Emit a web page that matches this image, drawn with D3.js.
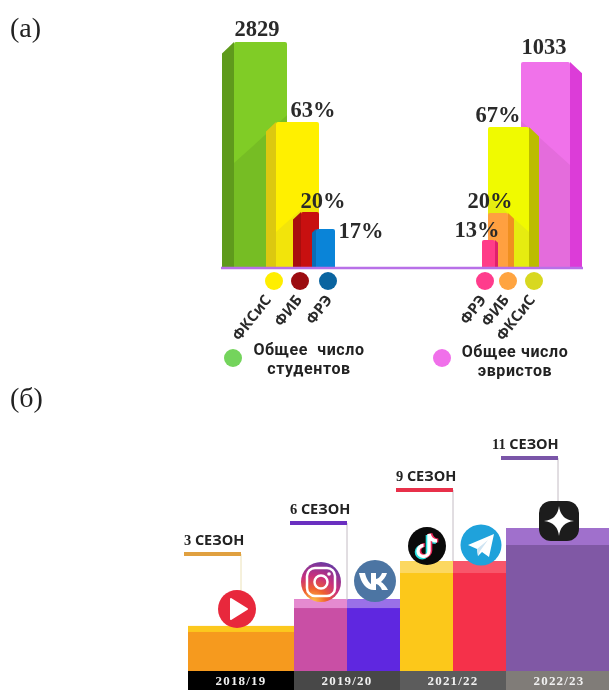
<!DOCTYPE html>
<html><head><meta charset="utf-8">
<script src="https://cdn.jsdelivr.net/npm/d3@7/dist/d3.min.js"></script>
<style>html,body{margin:0;padding:0;background:#fff;overflow:hidden}svg{display:block;filter:blur(0.35px)}</style>
</head><body><svg id="c" width="609" height="690" xmlns="http://www.w3.org/2000/svg"></svg>
<script>
// ---- data ----
const barKeys = ["students","sFksis","sFib","sFre","heurists","hFksis","hFib","hFre"];
const barLabels = ["2829","63%","20%","17%","1033","67%","20%","13%"];
// drawn bar heights, relative to the tallest bar (the infographic has no common axis)
const barLevels = [100,64.6,24.8,17.3,91.2,62.4,24.3,12.4];
const dotKeys = ["sFksis","sFib","sFre","hFre","hFib","hFksis"];
const dotLabels = ["ФКСиС","ФИБ","ФРЭ","ФРЭ","ФИБ","ФКСиС"];
const legendLines = [["Общее  число","студентов"],["Общее число","эвристов"]];
const seasons = ["2018/19","2019/20","2021/22","2022/23"];
const seasonNumbers = ["3","6","9","11"];
const seasonLevels = [31.5,50.3,76.9,100];

const svg = d3.select("#c");
const defs = svg.append("defs");
const serif = "'Liberation Serif',serif", sans = "'Open Sans','Noto Sans',sans-serif";

// panel letters
svg.selectAll("text.panel").data(["(а)","(б)"]).join("text")
  .attr("x",10).attr("y",d3.scaleOrdinal(["(а)","(б)"],[37,407]))
  .attr("font-family",serif).attr("font-size",28).attr("fill","#222").text(d=>d);

// ---- top chart ----
const yTop = d3.scaleLinear([0,100],[268,42]);
const x0 = d3.scaleOrdinal(barKeys,[222,266,293,312,521,488,488,482]);
const x1 = d3.scaleOrdinal(barKeys,[287,319,319,335,582,539,514,498]);
const sideW = d3.scaleOrdinal(barKeys,[12,10,8,4,-12,-10,-6,-3]);
const frontC = d3.scaleOrdinal(barKeys,["#80cc26","#fff000","#c81010","#0a84d8","#f072ea","#f0fa00","#ffa040","#ff3c88"]);
const sideC = d3.scaleOrdinal(barKeys,["#5f9a1c","#dcc810","#a80e0e","#0a6cb5","#dc3cd8","#bcbc00","#f09020","#e0206c"]);
const shadeC = d3.scaleOrdinal(barKeys,["#76bd24","#f2e40b","#c81010","#0a84d8","#e46cdc","#e6ec10","#f4a040","#ff3c88"]);
const order = ["students","heurists","sFksis","hFksis","sFib","hFib","sFre","hFre"];
const dotC = d3.scaleOrdinal(dotKeys,["#ffee00","#9c0c10","#0a64a0","#ff3c8c","#ffa440","#d8d820"]);
const labX = d3.scaleOrdinal(barKeys,[257,313,323,361,544,498,490,477]);
const labY = d3.scaleOrdinal(barKeys,[36,117,208,238,54,122,208,237]);
const shadeY = d3.scaleOrdinal(barKeys,[163,232,0,0,165,232,0,0]);

function frontPath(k,lvl){
  const a=x0(k),b=x1(k),s=sideW(k),t=yTop(lvl),base=yTop(0),r=2;
  const fl=s>0?a+s:a, fr=s>0?b:b+s;
  return `M${fl},${base}V${t+r}Q${fl},${t} ${fl+r},${t}H${fr-r}Q${fr},${t} ${fr},${t+r}V${base}Z`;
}
function sidePath(k,lvl){
  const a=x0(k),b=x1(k),s=sideW(k),t=yTop(lvl),base=yTop(0),d=Math.abs(s)*0.95;
  return s>0 ? `M${a},${base}V${t+d}L${a+s},${t}V${base}Z`
             : `M${b},${base}V${t+d}L${b+s},${t}V${base}Z`;
}
function shadePath(k){
  const a=x0(k),b=x1(k),s=sideW(k),base=yTop(0),y=shadeY(k);
  if(!y) return "";
  return s>0 ? `M${a+s},${base}V${y}L${b},${y-(b-a-s)*0.9}V${base}Z`
             : `M${a},${base}V${y-(b+s-a)*0.9}L${b+s},${y}V${base}Z`;
}
const lv = k=>barLevels[barKeys.indexOf(k)];
const gb = svg.selectAll("g.bar").data(order).join("g").attr("class","bar");
gb.append("path").attr("d",k=>sidePath(k,lv(k))).attr("fill",sideC);
gb.append("path").attr("d",k=>frontPath(k,lv(k))).attr("fill",frontC);
gb.append("path").attr("d",shadePath).attr("fill",shadeC);

svg.append("line").attr("x1",221).attr("x2",583).attr("y1",yTop(0)).attr("y2",yTop(0))
  .attr("stroke","#b870e8").attr("stroke-width",2.5);

svg.selectAll("text.val").data(barKeys).join("text").attr("class","val")
  .attr("x",labX).attr("y",labY).attr("text-anchor","middle")
  .attr("font-family",serif).attr("font-weight",700).attr("font-size",22.5).attr("fill","#2a2a2a")
  .text((k,i)=>barLabels[i]);

// category dots & rotated labels
const dotX = d3.scaleOrdinal(dotKeys,[274,300,328,485,508,534]);
const tickAnchor = d3.scaleOrdinal(dotKeys,[272,303,333,487,510,536]);
svg.selectAll("circle.dot").data(dotKeys).join("circle").attr("class","dot")
  .attr("cx",dotX).attr("cy",281).attr("r",9).attr("fill",dotC);
svg.selectAll("text.cat").data(dotKeys).join("text").attr("class","cat")
  .attr("transform",k=>`translate(${tickAnchor(k)},${300}) rotate(-52)`)
  .attr("text-anchor","end").attr("font-family",sans).attr("font-weight",700).attr("font-size",15)
  .attr("fill","#2a2a2a").text((k,i)=>dotLabels[i]);

// legend
const legX = d3.scaleOrdinal([0,1],[233,442]);
const legC = d3.scaleOrdinal([0,1],["#74d45c","#f070ea"]);
const legCx = d3.scaleOrdinal([0,1],[308,515]);
const legend = svg.selectAll("g.leg").data([0,1]).join("g");
legend.append("circle").attr("cx",legX).attr("cy",358).attr("r",9).attr("fill",legC);
legend.each(function(i){
  d3.select(this).selectAll("text").data(legendLines[i]).join("text")
    .attr("x",legCx(i)+(i?0:1)).attr("y",(d,j)=>355+(i?2:0)+j*19)
    .attr("text-anchor","middle").attr("font-family","Roboto,sans-serif").attr("font-weight",700).attr("font-size",16)
    .attr("letter-spacing",0.6).attr("xml:space","preserve").attr("style","white-space:pre").attr("fill","#222").text(d=>d);
});

// ---- bottom chart ----
const xS = d3.scaleBand(seasons,[188,612]);
const yS = d3.scaleLinear([0,100],[671,528]);
const half = d3.scaleBand([0,1],[0,xS.bandwidth()]);
const bodyC = [["#f69a1e","#f69a1e"],["#c94fa5","#5f27e0"],["#fcc81a","#f5314a"],["#8058a5","#8058a5"]];
const capC  = [["#fcc81e","#fcc81e"],["#e58ad0","#9a70e8"],["#fcd860","#f8566a"],["#a070cc","#a070cc"]];
const capH = d3.scaleOrdinal(seasons,[6,9,12,17]);
const stripC = d3.scaleOrdinal(seasons,["#000000","#484848","#5c5c5c","#807c78"]);

seasons.forEach((s,i)=>{
  [0,1].forEach(h=>{
    const bx=xS(s)+half(h), top=yS(seasonLevels[i]);
    svg.append("rect").attr("x",bx).attr("width",half.bandwidth()).attr("y",top)
      .attr("height",yS(0)-top).attr("fill",bodyC[i][h]);
    svg.append("rect").attr("x",bx).attr("width",half.bandwidth()).attr("y",top)
      .attr("height",capH(s)).attr("fill",capC[i][h]);
  });
});
svg.selectAll("rect.strip").data(seasons).join("rect").attr("class","strip")
  .attr("x",d=>xS(d)).attr("width",xS.bandwidth()).attr("y",yS(0)).attr("height",19).attr("fill",stripC);
svg.selectAll("text.yr").data(seasons).join("text").attr("class","yr")
  .attr("x",d=>xS(d)+xS.bandwidth()/2).attr("y",685).attr("text-anchor","middle")
  .attr("font-family",serif).attr("font-weight",700).attr("font-size",13).attr("letter-spacing",1.2)
  .attr("fill","#f0f0f0").text(d=>d);

// season call-outs
const calloutRight = d3.scaleOrdinal(seasons,[241,347,453,558]);
const calloutY = d3.scaleOrdinal(seasons,[554,523,490,458]);
const calloutEnd = d3.scaleOrdinal(seasons,[590,600,561,505]);
const calloutC = d3.scaleOrdinal(seasons,["#e0a040","#6a2fc0","#e8304a","#7a55a8"]);
const g = svg.selectAll("g.call").data(seasons).join("g");
g.append("line").attr("x1",calloutRight).attr("x2",calloutRight).attr("y1",calloutY).attr("y2",calloutEnd)
  .attr("stroke",(d,i)=>i?"#c4bcc4":"#ece2b8").attr("stroke-width",1);
g.append("rect").attr("x",d=>calloutRight(d)-57).attr("width",57).attr("y",d=>calloutY(d)-2).attr("height",4).attr("fill",calloutC);
const t = g.append("text").attr("x",d=>calloutRight(d)-(d==="2022/23"?66:57)).attr("y",d=>calloutY(d)-9)
  .attr("font-size",14.5).attr("fill","#222").attr("font-weight",700);
t.append("tspan").attr("font-family",serif).text((d,i)=>seasonNumbers[i]+" ");
t.append("tspan").attr("font-family",sans).text("СЕЗОН");

// platform icons
function icon(cx,cy){return svg.append("g").attr("transform",`translate(${cx},${cy})`);}
// play
let ic=icon(237,609);
ic.append("circle").attr("r",19).attr("fill","#e8283c");
ic.append("path").attr("d","M-6,-10L10,0L-6,10Z").attr("fill","#fff").attr("stroke","#fff").attr("stroke-width",2).attr("stroke-linejoin","round");
// instagram
const ig=defs.append("radialGradient").attr("id","ig").attr("cx","30%").attr("cy","100%").attr("r","110%");
[[0,"#fdc84a"],[.3,"#f0622e"],[.6,"#c82f7e"],[1,"#5a3aa8"]].forEach(s=>ig.append("stop").attr("offset",s[0]).attr("stop-color",s[1]));
ic=icon(321,582);
ic.append("circle").attr("r",20).attr("fill","url(#ig)");
ic.append("rect").attr("x",-14).attr("y",-14).attr("width",28).attr("height",28).attr("rx",8).attr("fill","none").attr("stroke","#fff").attr("stroke-width",2.5);
ic.append("circle").attr("r",6.5).attr("fill","none").attr("stroke","#fff").attr("stroke-width",2.5);
ic.append("circle").attr("cx",8).attr("cy",-8).attr("r",1.8).attr("fill","#fff");
// VK
ic=icon(375,581);
ic.append("circle").attr("r",21).attr("fill","#4c75a3");
ic.append("path").attr("d","M-16,-8H-10C-9,-3 -6,2 -4,3V-8H1V-2C3,-2 6,-5 7,-8H12C11,-4 8,-1 6,1C8,2 11,5 13,9H7C6,6 3,3 1,3V9H-1C-9,9 -14,2 -16,-8Z").attr("fill","#fff");
// TikTok
ic=icon(427,546);
ic.append("circle").attr("r",19).attr("fill","#0a0a0a");
const note="M2,-12V5A5.5,5.5 0 1 1 -3.5,-0.5M2,-12C3,-8 6,-5 10,-5";
ic.append("path").attr("d",note).attr("transform","translate(-1.3,1)").attr("fill","none").attr("stroke","#26e0e0").attr("stroke-width",4);
ic.append("path").attr("d",note).attr("transform","translate(1.3,-0.5)").attr("fill","none").attr("stroke","#f0285a").attr("stroke-width",4);
ic.append("path").attr("d",note).attr("fill","none").attr("stroke","#fff").attr("stroke-width",3.4);
// Telegram
ic=icon(481,545);
ic.append("circle").attr("r",20.5).attr("fill","#1fa2db");
ic.append("path").attr("d","M-13,0L13,-11L8,12L1,7L-3,11L-4,4L-13,0Z").attr("fill","#fff");
ic.append("path").attr("d","M-4,4L7,-5L-1,6L-3,11Z").attr("fill","#cfe4f2");
// Zen
ic=icon(559,521);
ic.append("rect").attr("x",-20).attr("y",-20).attr("width",40).attr("height",40).attr("rx",12).attr("fill","#1c1c1c");
ic.append("path").attr("d","M0,-15Q1.5,-1.5 15,0Q1.5,1.5 0,15Q-1.5,1.5 -15,0Q-1.5,-1.5 0,-15Z").attr("fill","#fff");
</script></body></html>
